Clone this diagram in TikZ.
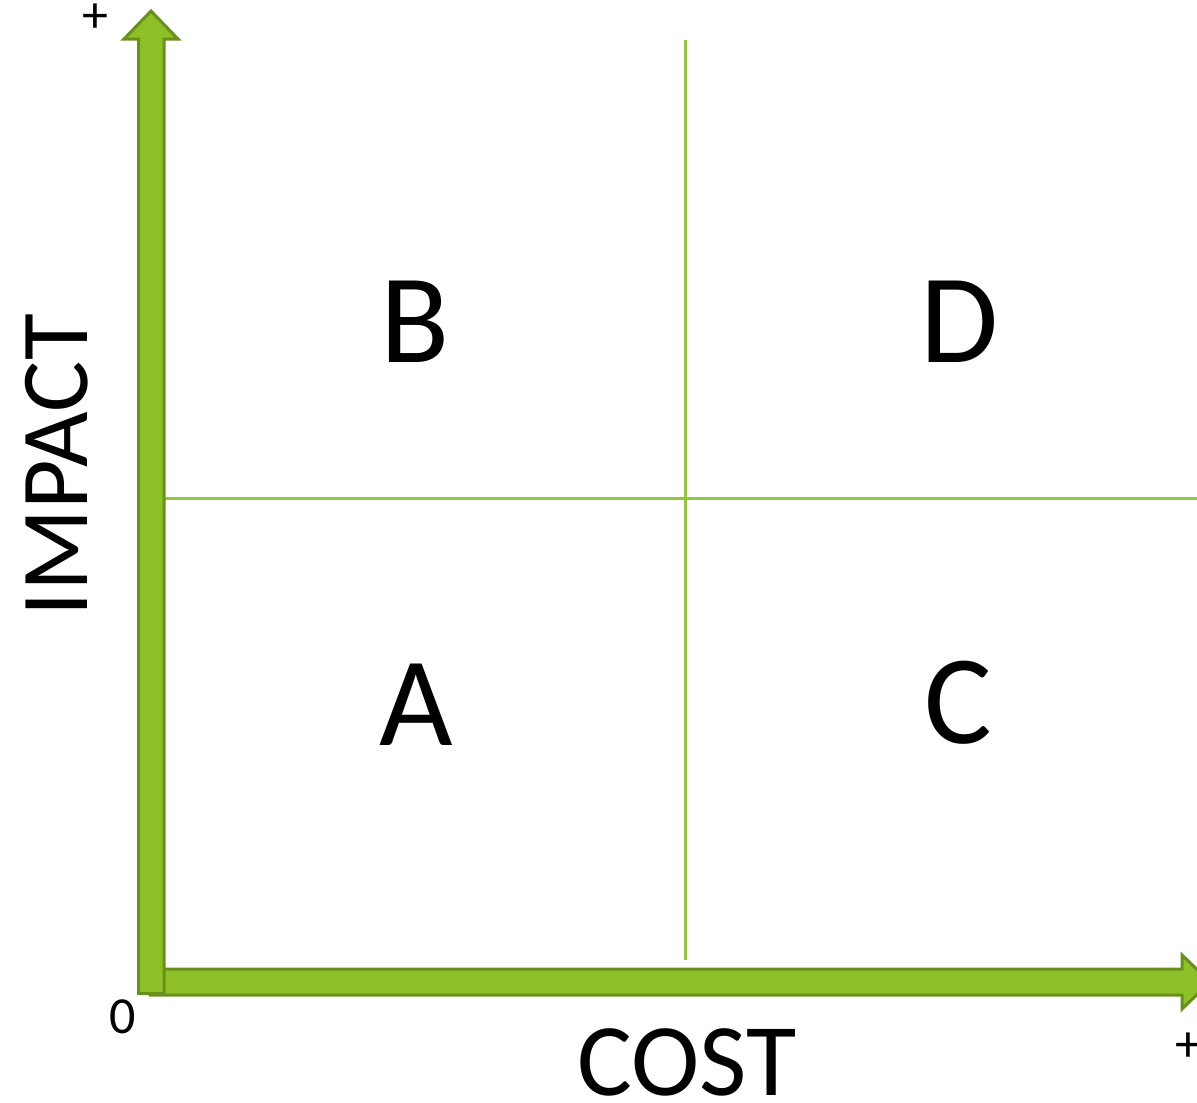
\documentclass[tikz,border=0pt]{standalone}
\usepackage{fontspec}
\setmainfont{Carlito}
\definecolor{axfill}{HTML}{8DC026}
\definecolor{axline}{HTML}{6A901C}
\definecolor{grid}{HTML}{92C83E}
\begin{document}
\begin{tikzpicture}[x=1pt,y=-1pt,
  axis/.style={fill=axfill,draw=axline,line width=3pt,line join=miter},
  gridline/.style={draw=grid,line width=3pt},
  quad/.style={inner sep=0pt,font=\fontsize{127}{127}\selectfont},
  axlabel/.style={inner sep=0pt,font=\fontsize{103}{103}\selectfont},
  vlabel/.style={inner sep=0pt,font=\fontsize{96}{96}\selectfont},
  small/.style={inner sep=0pt,font=\fontsize{52}{52}\selectfont}]
\useasboundingbox (0,0) rectangle (1197,1103);
\clip (0,0) rectangle (1197,1103);
% grid
\coordinate (vt) at (685,40);
\coordinate (vb) at (685,960);
\coordinate (hl) at (164,498);
\coordinate (hr) at (1200,498);
\draw[gridline] (vt) -- (vb);
\draw[gridline] (hl) -- (hr);
% horizontal axis
\draw[axis] (150,969) -- (1182,969) -- (1182,955) -- (1210,982) -- (1182,1009) -- (1182,995) -- (150,995) -- cycle;
% vertical axis
\draw[axis] (138.5,993.5) -- (138.5,39) -- (124,39) -- (151,11) -- (178,39) -- (164,39) -- (164,993.5) -- cycle;
% labels
\node[quad] (B) at (415,322) {B};
\node[quad] (D) at (960,322) {D};
\node[quad] (A) at (416,705) {A};
\node[quad] (C) at (958,703) {C};
\node[axlabel] (cost) at (687,1062) {COST};
\node[vlabel,rotate=90] (impact) at (57,465) {IMPACT};
\node[small] (zero) at (123,1017) {0};
\node[small] (plusy) at (95,18) {+};
\node[small] (plusx) at (1188,1047) {+};
\end{tikzpicture}
\end{document}
